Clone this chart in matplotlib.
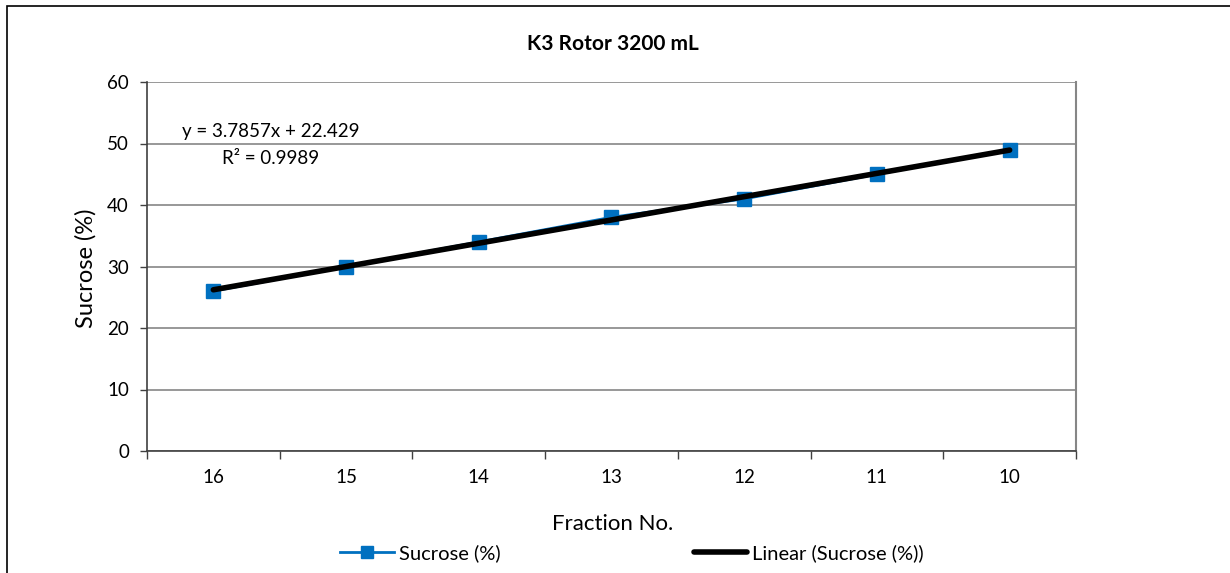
import numpy as np
import matplotlib
matplotlib.use("Agg")
import matplotlib.pyplot as plt
from matplotlib.lines import Line2D
from matplotlib.patches import Rectangle

categories = ["16", "15", "14", "13", "12", "11", "10"]
sucrose = [26, 30, 34, 38, 41, 45, 49]
y_ticks = [0, 10, 20, 30, 40, 50, 60]
title = "K3 Rotor 3200 mL"
eq_text = "y = 3.7857x + 22.429"
r2_text = "R² = 0.9989"

plt.rcParams['font.family'] = ['Lato', 'DejaVu Sans']

W, H = 1230, 573
fig = plt.figure(figsize=(W / 100, H / 100), dpi=100)
fig.patch.set_facecolor('white')

def fx(px):
    return px / W

def fy(py):
    return 1 - py / H

ax = fig.add_axes([fx(147), fy(451), fx(1076) - fx(147), fy(82) - fy(451)])

x = np.arange(1, len(categories) + 1)
blue = '#0070C0'
ax.plot(x, sucrose, color=blue, lw=2, marker='s', ms=10, mfc=blue, mec=blue, zorder=3)

slope, intercept = np.polyfit(x, sucrose, 1)
ax.plot(x, slope * x + intercept, color='black', lw=4, solid_capstyle='round', zorder=4)

ax.set_xlim(0.5, len(categories) + 0.5)
ax.set_ylim(0, 60)
ax.set_yticks(y_ticks)
ax.set_yticklabels([str(v) for v in y_ticks], fontsize=13.5)
ax.set_xticks(np.arange(0.5, len(categories) + 1, 1))
ax.set_xticklabels([])
ax.set_xticks(x, minor=True)
ax.set_xticklabels(categories, minor=True, fontsize=13.5)
ax.tick_params(axis='x', which='major', direction='out', length=6, width=1, color='#404040')
ax.tick_params(axis='x', which='minor', length=0, pad=13)
ax.tick_params(axis='y', direction='out', length=5, width=1, color='#404040', pad=8)

ax.grid(axis='y', color='#868686', lw=1.2)
ax.set_axisbelow(True)
ax.spines['top'].set_visible(False)
ax.spines['right'].set_color('#868686')
ax.spines['right'].set_linewidth(1.5)
ax.spines['left'].set_color('#404040')
ax.spines['left'].set_linewidth(1.2)
ax.spines['bottom'].set_color('#404040')
ax.spines['bottom'].set_linewidth(1.2)

fig.text(fx(613), fy(44), title, ha='center', va='center', fontsize=15, fontweight='bold')
fig.text(fx(86), fy(268), "Sucrose (%)", ha='center', va='center', rotation=90, fontsize=17)
fig.text(fx(613), fy(524), "Fraction No.", ha='center', va='center', fontsize=16)
fig.text(fx(271), fy(132), eq_text, ha='center', va='center', fontsize=13.5)
fig.text(fx(271), fy(158), r2_text, ha='center', va='center', fontsize=13.5)

h1 = Line2D([], [], color=blue, lw=2, marker='s', ms=9, mfc=blue, mec=blue)
h2 = Line2D([], [], color='black', lw=4, solid_capstyle='round')
fig.legend([h1, h2], ["Sucrose (%)", "Linear (Sucrose (%))"], loc='center',
           bbox_to_anchor=(fx(632), fy(553)), ncol=2, frameon=False, fontsize=14.5,
           handlelength=2.65, handletextpad=0.25, columnspacing=9.6,
           borderpad=0, borderaxespad=0)

fig.add_artist(Rectangle((fx(7), fy(590)), 2, fy(6) - fy(590), transform=fig.transFigure,
                         fill=False, edgecolor='black', lw=1.2))

fig.savefig('out.png', dpi=100)
